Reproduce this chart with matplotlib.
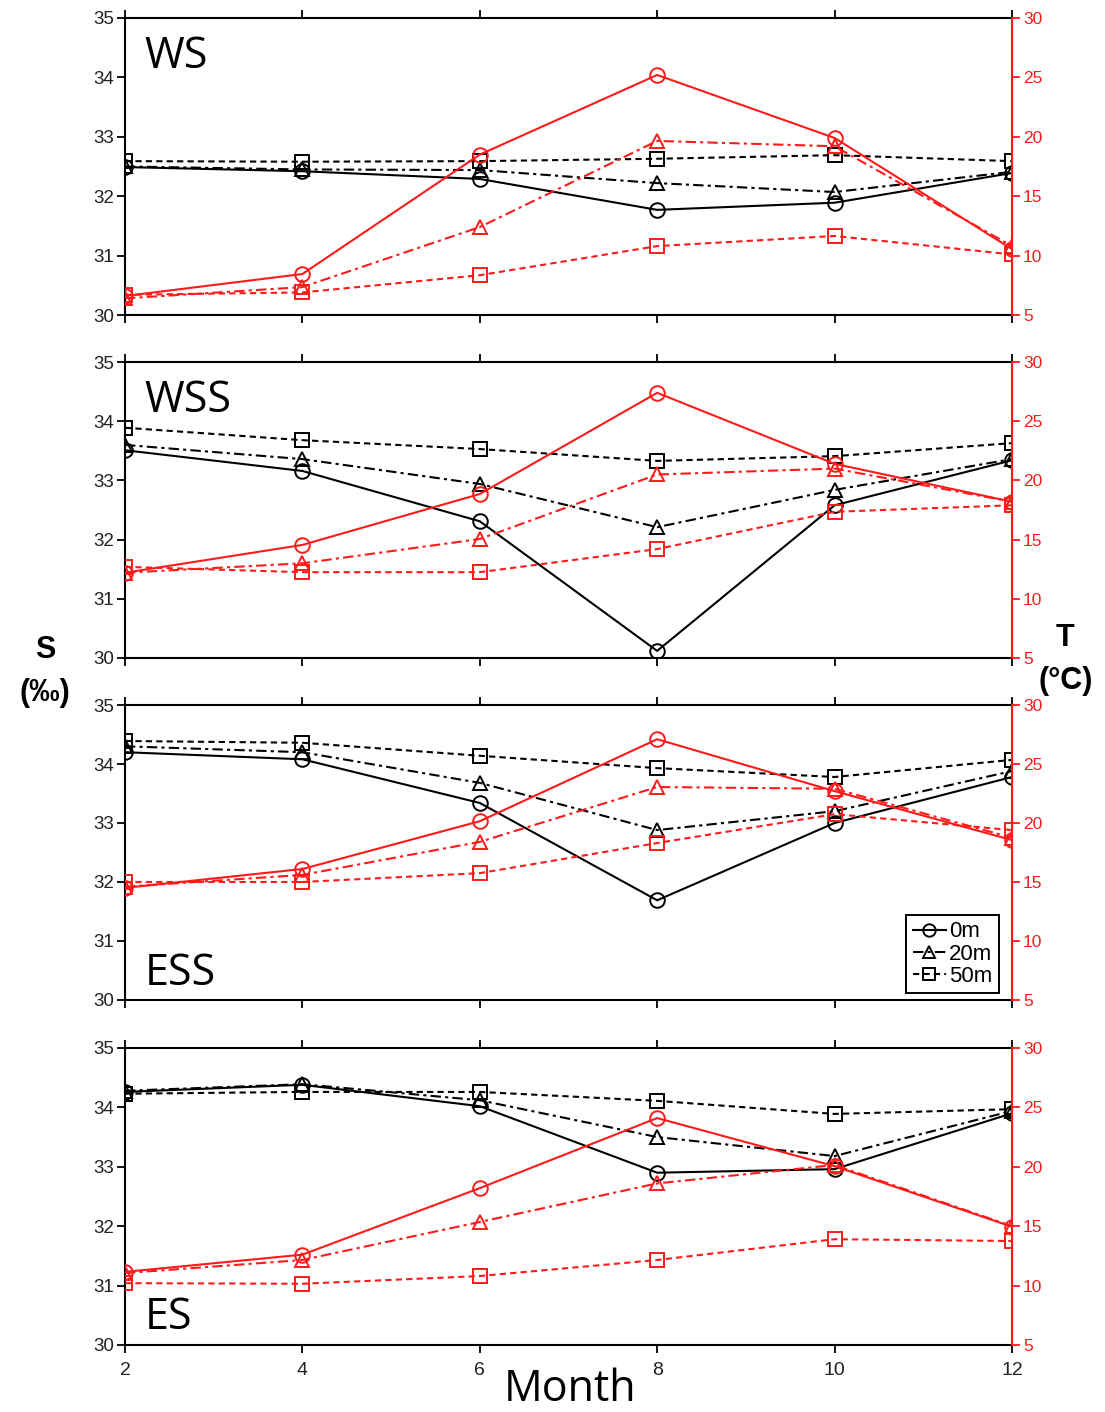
import matplotlib.pyplot as plt
import numpy as np

plt.rcParams['font.family'] = ['Liberation Sans', 'DejaVu Sans']

months = [2, 4, 6, 8, 10, 12]
regions = ["WS", "WSS", "ESS", "ES"]
depths = ["0m", "20m", "50m"]

# salinity (‰) per region, rows = 0m, 20m, 50m
sal_ws = [[32.49, 32.42, 32.29, 31.77, 31.89, 32.39],
          [32.50, 32.45, 32.44, 32.22, 32.07, 32.41],
          [32.59, 32.58, 32.59, 32.63, 32.69, 32.59]]
sal_wss = [[33.51, 33.16, 32.31, 30.12, 32.58, 33.34],
           [33.60, 33.36, 32.94, 32.21, 32.84, 33.36],
           [33.89, 33.68, 33.53, 33.33, 33.41, 33.63]]
sal_ess = [[34.20, 34.08, 33.34, 31.69, 33.00, 33.78],
           [34.30, 34.20, 33.68, 32.88, 33.20, 33.88],
           [34.39, 34.36, 34.14, 33.93, 33.78, 34.07]]
sal_es = [[34.26, 34.38, 34.02, 32.90, 32.96, 33.90],
          [34.28, 34.39, 34.12, 33.50, 33.18, 33.94],
          [34.23, 34.26, 34.26, 34.11, 33.89, 33.97]]

# temperature (°C) per region, rows = 0m, 20m, 50m
tmp_ws = [[6.6, 8.45, 18.5, 25.2, 19.9, 10.55],
          [6.4, 7.35, 12.4, 19.65, 19.2, 10.8],
          [6.7, 6.9, 8.35, 10.8, 11.65, 10.1]]
tmp_wss = [[12.2, 14.55, 18.85, 27.4, 21.4, 18.2],
           [12.2, 13.0, 15.05, 20.5, 21.0, 18.2],
           [12.7, 12.25, 12.25, 14.2, 17.35, 17.9]]
tmp_ess = [[14.5, 16.1, 20.15, 27.1, 22.7, 18.55],
           [14.6, 15.6, 18.4, 23.05, 22.9, 18.75],
           [15.0, 15.0, 15.75, 18.3, 20.75, 19.4]]
tmp_es = [[11.15, 12.6, 18.2, 24.1, 20.05, 14.95],
          [11.05, 12.15, 15.35, 18.6, 20.15, 15.0],
          [10.2, 10.15, 10.8, 12.15, 13.9, 13.75]]

salinity = [sal_ws, sal_wss, sal_ess, sal_es]
temperature = [tmp_ws, tmp_wss, tmp_ess, tmp_es]

markers = ['o', '^', 's']
styles = ['-', (0, (5, 2, 1.5, 2)), (0, (3, 2))]
red = '#ff1a1a'

fig = plt.figure(figsize=(11.05, 14.12), dpi=100)
left, width = 0.1131, 0.8027
panels = [(0.7769, 0.2104), (0.5340, 0.2096), (0.2918, 0.2089), (0.0475, 0.2103)]

for k, (bottom, height) in enumerate(panels):
    ax = fig.add_axes([left, bottom, width, height])
    ax2 = ax.twinx()
    for d in range(3):
        ax.plot(months, salinity[k][d], color='black', linestyle=styles[d], lw=1.5,
                marker=markers[d], ms=10.5, mfc='none', mec='black', mew=1.4, label=depths[d])
        ax2.plot(months, temperature[k][d], color=red, linestyle=styles[d], lw=1.5,
                 marker=markers[d], ms=10.5, mfc='none', mec=red, mew=1.4)

    ax.set_xlim(2, 12)
    ax.set_ylim(30, 35)
    ax.set_xticks(months)
    ax.set_yticks(np.arange(30, 36, 1))
    ax2.set_ylim(5, 30)
    ax2.set_yticks(np.arange(5, 31, 5))

    ax.tick_params(axis='both', direction='out', length=6, width=1.3,
                   labelsize=13.5, top=True, pad=2, labelcolor='#222222')
    ax.tick_params(axis='x', labelsize=14, pad=6)
    if k < 3:
        ax.tick_params(axis='x', labelbottom=False)
    ax2.tick_params(axis='y', direction='out', length=6, width=1.3, colors=red,
                    labelsize=12.5, pad=2)
    for s in ['left', 'top', 'bottom']:
        ax.spines[s].set_linewidth(1.5)
    ax2.spines['right'].set_color(red)
    ax2.spines['right'].set_linewidth(1.5)
    for s in ['left', 'top', 'bottom']:
        ax2.spines[s].set_visible(False)

    if k in (0, 1):
        ax.text(0.022, 0.87, regions[k], transform=ax.transAxes, fontsize=31,
                family=['Open Sans', 'DejaVu Sans'], va='center', ha='left')
    else:
        ax.text(0.022, 0.09, regions[k], transform=ax.transAxes, fontsize=31,
                family=['Open Sans', 'DejaVu Sans'], va='center', ha='left')

    if k == 2:
        leg = ax.legend(loc='lower right', bbox_to_anchor=(0.993, 0.0), fontsize=16,
                        handlelength=1.5, handletextpad=0.15, borderpad=0.3,
                        labelspacing=0.05, borderaxespad=0.3, fancybox=False,
                        framealpha=1, edgecolor='black', markerscale=0.85)
        leg.get_frame().set_linewidth(1.4)

fig.text(0.5163, 0.016, "Month", fontsize=31, family=['Open Sans', 'DejaVu Sans'],
         ha='center', va='center')
fig.text(0.041, 0.540, "S", fontsize=22, fontweight='bold', ha='center', va='center')
fig.text(0.041, 0.509, "(‰)", fontsize=22, fontweight='bold', ha='center', va='center')
fig.text(0.964, 0.548, "T", fontsize=22, fontweight='bold', ha='center', va='center')
fig.text(0.964, 0.518, "(°C)", fontsize=22, fontweight='bold', ha='center', va='center')

fig.savefig("out.png", dpi=100)
